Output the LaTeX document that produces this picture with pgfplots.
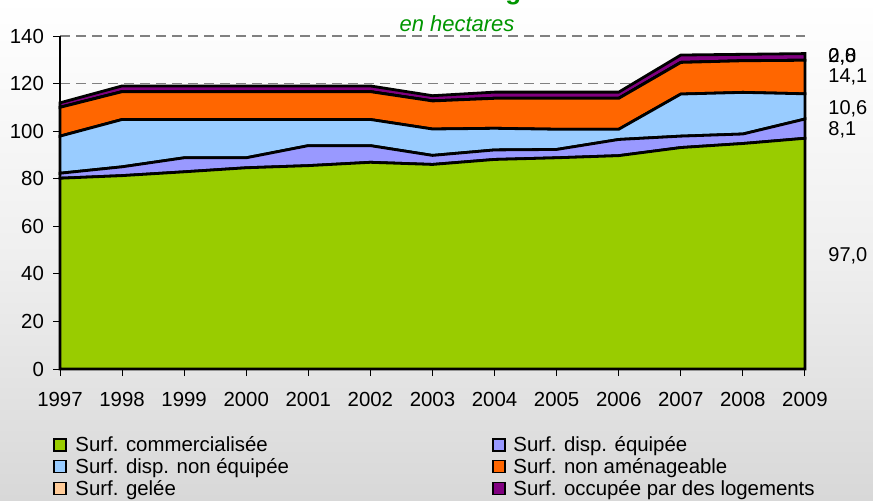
\documentclass[border=0pt]{standalone}
\usepackage{fontspec}
\setmainfont{Liberation Sans}
\usepackage{pgfplots}
\pgfplotsset{compat=1.18}
\definecolor{cgreen}{RGB}{153,204,0}
\definecolor{clav}{RGB}{153,153,255}
\definecolor{clblue}{RGB}{153,204,255}
\definecolor{corange}{RGB}{255,102,0}
\definecolor{cpeach}{RGB}{255,204,153}
\definecolor{cpurple}{RGB}{128,0,128}
\definecolor{ctitle}{RGB}{0,150,0}
\definecolor{bgbot}{RGB}{216,216,216}
\definecolor{cgrid}{RGB}{128,128,128}
\tikzset{vlab/.style={anchor=west, inner sep=0, font=\fontsize{10}{12}\selectfont, xshift=11.5pt},
  leg/.style={anchor=base west, inner sep=0, font=\fontsize{10.2}{12}\selectfont}}

\pgfplotstableread{
year comm equip nonequip nonamen gelee logt
1997 80.2 2.1 15.6 12.1 0.0 1.9
1998 81.3 3.7 19.9 11.7 0.0 2.4
1999 82.9 5.9 16.1 11.7 0.0 2.4
2000 84.6 4.2 16.1 11.7 0.0 2.4
2001 85.5 8.4 11.0 11.7 0.0 2.4
2002 86.9 7.0 11.0 11.7 0.0 2.4
2003 86.0 3.8 11.1 11.8 0.0 2.2
2004 88.1 4.0 9.1 12.6 0.0 2.6
2005 88.8 3.5 8.5 13.0 0.0 2.6
2006 89.7 6.8 4.3 13.0 0.0 2.6
2007 93.1 4.8 17.7 13.3 0.0 3.1
2008 94.8 4.0 17.5 13.3 0.0 2.7
2009 97.0 8.1 10.6 14.1 0.0 2.8
}\datatable

\begin{document}
\begin{tikzpicture}
\shade[top color=white, bottom color=bgbot, middle color=white!60!bgbot] (0pt,0pt) rectangle (436.5pt,250pt);
\node[anchor=base, font=\bfseries\fontsize{13}{15}\selectfont, text=ctitle, inner sep=0] at (244pt,250.3pt) {Evolution de l'aménagement des zones};
\node[anchor=base, font=\itshape\fontsize{11}{13}\selectfont, text=ctitle, inner sep=0] at (228.5pt,234.2pt) {en hectares};
\begin{axis}[
  at={(30pt,65.5pt)}, anchor=south west,
  width=372.5pt, height=166.5pt, scale only axis,
  xmin=1997, xmax=2009, ymin=0, ymax=140,
  axis x line*=bottom, axis y line*=left,
  axis line style={black, line width=0.8pt},
  xtick={1997,...,2009}, ytick={0,20,...,140},
  ymajorgrids,
  grid style={cgrid, dash pattern=on 5pt off 3pt, line width=0.7pt},
  tick style={black, line width=0.5pt},
  tick align=outside, major tick length=3.5pt,
  tick label style={font=\fontsize{10.2}{12}\selectfont, text=black},
  /pgf/number format/assume math mode=true,
  x tick label style={/pgf/number format/1000 sep={}, yshift=-4.5pt},
  y tick label style={xshift=-1pt},
  stack plots=y,
  clip=false,
]
\addplot[fill=cgreen, draw=black, line width=1.4pt, mark=none] table[x=year, y=comm] {\datatable} \closedcycle;
\addplot[fill=clav, draw=black, line width=1.4pt, mark=none] table[x=year, y=equip] {\datatable} \closedcycle;
\addplot[fill=clblue, draw=black, line width=1.4pt, mark=none] table[x=year, y=nonequip] {\datatable} \closedcycle;
\addplot[fill=corange, draw=black, line width=1.4pt, mark=none] table[x=year, y=nonamen] {\datatable} \closedcycle;
\addplot[fill=cpeach, draw=black, line width=1.4pt, mark=none] table[x=year, y=gelee] {\datatable} \closedcycle;
\addplot[fill=cpurple, draw=black, line width=1.4pt, mark=none] table[x=year, y=logt] {\datatable} \closedcycle;
\node[vlab] at (axis cs:2009,47.5) {97,0};
\node[vlab] at (axis cs:2009,100.5) {8,1};
\node[vlab] at (axis cs:2009,109.5) {10,6};
\node[vlab] at (axis cs:2009,122.9) {14,1};
\node[vlab] at (axis cs:2009,131.1) {0,0};
\node[vlab] at (axis cs:2009,131.1) {2,8};
\end{axis}
\draw[fill=cgreen, line width=0.8pt] (27pt,24.5pt) rectangle (33pt,30.5pt);
\node[leg] at (37.5pt,24.2pt) {Surf. commercialisée};
\draw[fill=clblue, line width=0.8pt] (27pt,13.7pt) rectangle (33pt,19.7pt);
\node[leg] at (37.5pt,13.3pt) {Surf. disp. non équipée};
\draw[fill=cpeach, line width=0.8pt] (27pt,2.8pt) rectangle (33pt,8.8pt);
\node[leg] at (37.5pt,2.5pt) {Surf. gelée};
\draw[fill=clav, line width=0.8pt] (246.5pt,24.5pt) rectangle (252.5pt,30.5pt);
\node[leg] at (256.5pt,24.2pt) {Surf. disp. équipée};
\draw[fill=corange, line width=0.8pt] (246.5pt,13.7pt) rectangle (252.5pt,19.7pt);
\node[leg] at (256.5pt,13.3pt) {Surf. non aménageable};
\draw[fill=cpurple, line width=0.8pt] (246.5pt,2.8pt) rectangle (252.5pt,8.8pt);
\node[leg] at (256.5pt,2.5pt) {Surf. occupée par des logements};
\pgfresetboundingbox
\useasboundingbox (0pt,0pt) rectangle (436.5pt,250pt);
\end{tikzpicture}
\end{document}
